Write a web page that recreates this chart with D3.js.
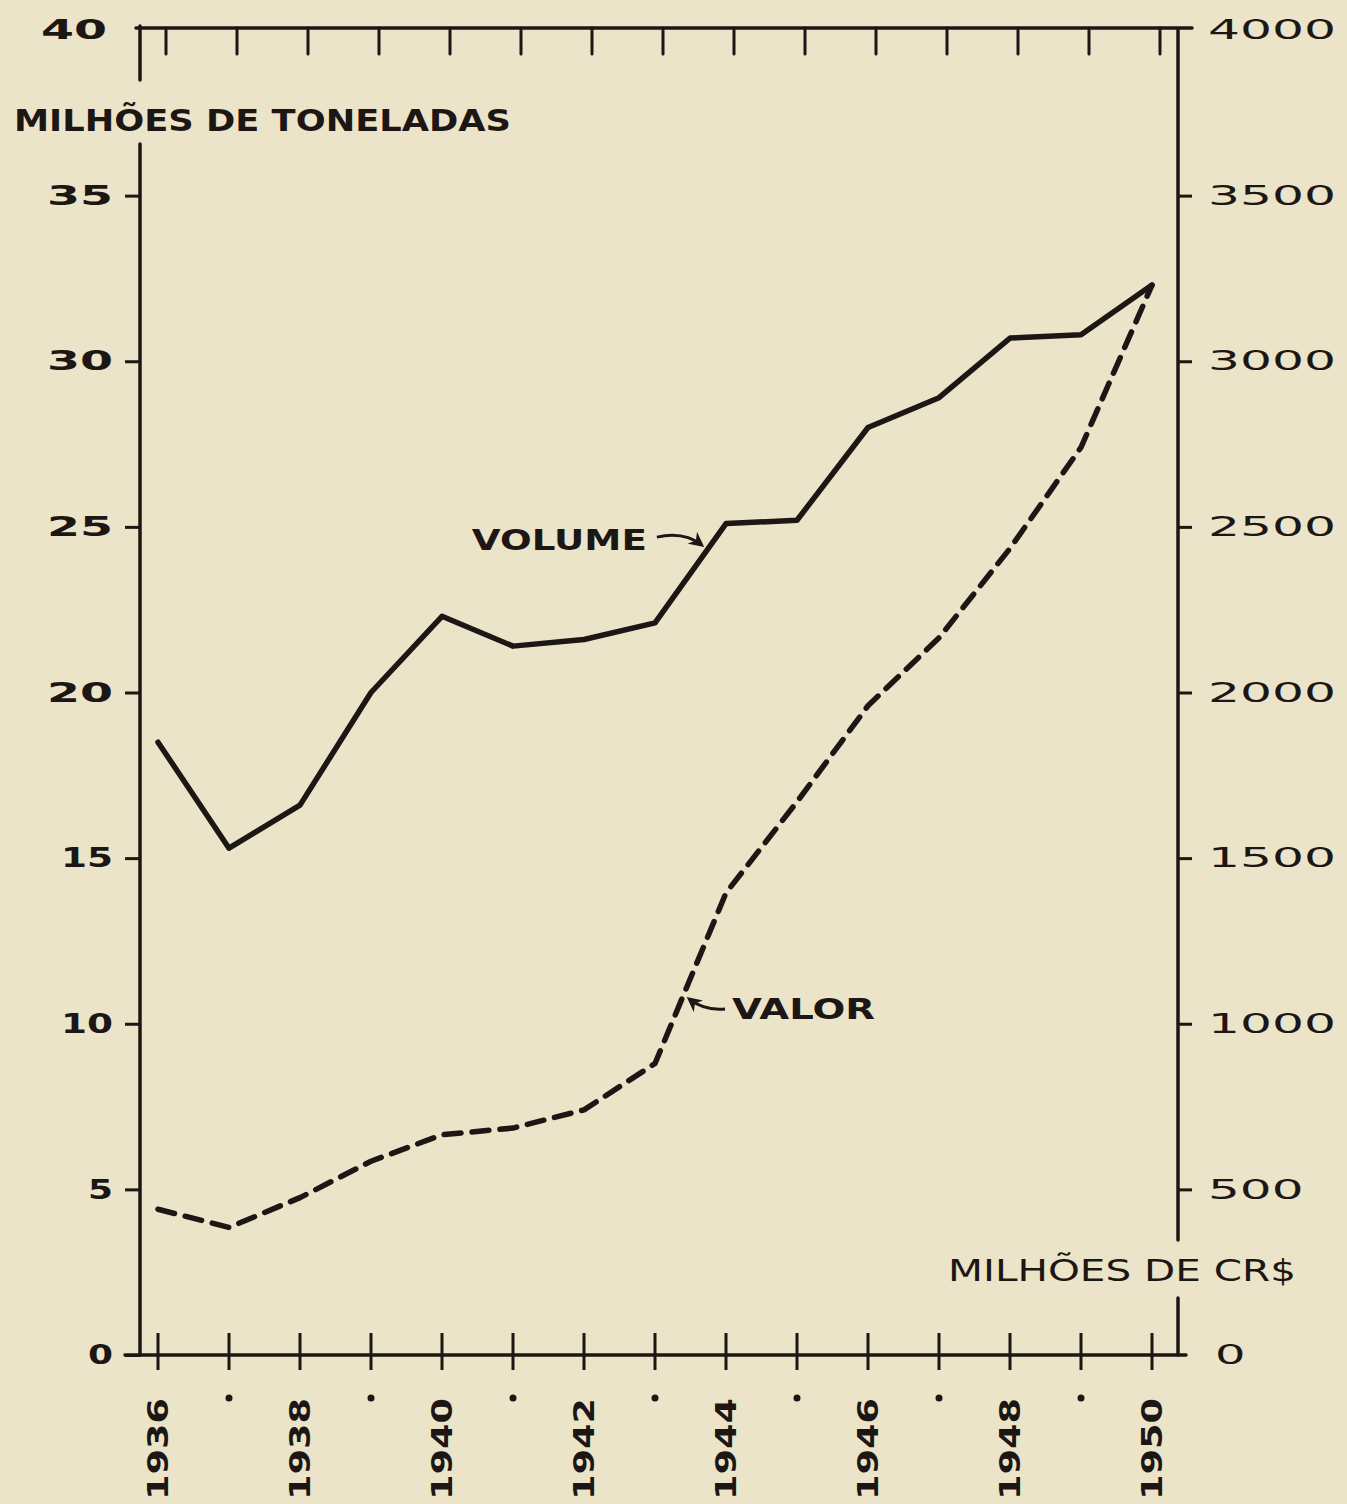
<!DOCTYPE html>
<html>
<head>
<meta charset="utf-8">
<script src="https://cdn.jsdelivr.net/npm/d3@7"></script>
<style>
  html, body { margin: 0; padding: 0; background: #ece4c8; }
  svg { display: block; }
  text { fill: #1c1714; font-family: 'DejaVu Sans', sans-serif; }
</style>
</head>
<body>
<svg id="chart" width="1347" height="1504"></svg>
<script>
// values
const years = [1936, 1937, 1938, 1939, 1940, 1941, 1942, 1943, 1944, 1945, 1946, 1947, 1948, 1949, 1950];
const volume = [18.5, 15.3, 16.6, 20.0, 22.3, 21.4, 21.6, 22.1, 25.1, 25.2, 28.0, 28.9, 30.7, 30.8, 32.3]; // milhoes de toneladas
const valor = [440, 385, 475, 585, 665, 685, 740, 880, 1395, 1670, 1960, 2165, 2435, 2740, 3230]; // milhoes de cr$
const leftTicks = [0, 5, 10, 15, 20, 25, 30, 35, 40];
const rightTicks = [0, 500, 1000, 1500, 2000, 2500, 3000, 3500, 4000];

const ink = '#1c1714';
const axisX0 = 140;
const axisX1 = 1178;
const baseY = 1355;
const topY = 30;

const svg = d3.select('#chart');
svg.append('rect').attr('width', 1347).attr('height', 1504).attr('fill', '#ece4c8');

const x = d3.scaleLinear().domain([1936, 1950]).range([158, 1152]);
const yLeft = d3.scaleLinear().domain([0, 40]).range([baseY, topY]);
const yRight = d3.scaleLinear().domain([0, 4000]).range([baseY, topY]);

// frame lines (hand drawn look: gaps where the unit titles sit)
const frame = svg.append('g').attr('stroke', ink).attr('stroke-width', 3.5).attr('stroke-linecap', 'round');
frame.append('line').attr('x1', axisX0).attr('x2', axisX0).attr('y1', topY - 4).attr('y2', 80);
frame.append('line').attr('x1', axisX0).attr('x2', axisX0).attr('y1', 144).attr('y2', baseY);
frame.append('line').attr('x1', axisX1).attr('x2', axisX1).attr('y1', topY).attr('y2', 1240);
frame.append('line').attr('x1', axisX1).attr('x2', axisX1).attr('y1', 1298).attr('y2', baseY);
frame.append('line').attr('x1', axisX0 - 4).attr('x2', axisX1 + 14).attr('y1', topY - 2).attr('y2', topY - 2);
frame.append('line').attr('x1', 125).attr('x2', axisX1 + 8).attr('y1', baseY).attr('y2', baseY);

// left axis
const gl = svg.append('g')
  .attr('transform', `translate(${axisX0},0)`)
  .call(d3.axisLeft(yLeft).tickValues(leftTicks).tickSize(15).tickPadding(12).tickFormat(d3.format('d')));
gl.select('.domain').remove();
gl.selectAll('.tick line').attr('stroke', ink).attr('stroke-width', 3)
  .attr('opacity', d => (d === 40 ? 0 : 1));
gl.selectAll('.tick text')
  .attr('font-size', 27)
  .attr('font-weight', 'bold')
  .attr('fill', ink)
  .attr('x', d => (d === 40 ? -33 : -27))
  .attr('textLength', d => {
    const s = String(d);
    return s.length === 1 ? 25 : (s[0] === '1' ? 52 : 66);
  })
  .attr('lengthAdjust', 'spacingAndGlyphs');

// right axis
const gr = svg.append('g')
  .attr('transform', `translate(${axisX1},0)`)
  .call(d3.axisRight(yRight).tickValues(rightTicks).tickSize(14).tickPadding(14).tickFormat(d3.format('d')));
gr.select('.domain').remove();
gr.selectAll('.tick line').attr('stroke', ink).attr('stroke-width', 3)
  .attr('opacity', d => (d === 0 || d === 4000 ? 0 : 1));
gr.selectAll('.tick text')
  .attr('font-size', 27)
  .attr('fill', ink)
  .attr('x', d => (d === 0 ? 37 : 30))
  .attr('textLength', d => String(d).length * 32.5 - 2)
  .attr('lengthAdjust', 'spacingAndGlyphs');

// year ticks, crossing the base line, and matching ticks hanging from the top line
svg.append('g').selectAll('line')
  .data(years)
  .join('line')
  .attr('x1', d => x(d)).attr('x2', d => x(d))
  .attr('y1', baseY - 22).attr('y2', baseY + 15)
  .attr('stroke', ink).attr('stroke-width', 3);

svg.append('g').selectAll('line')
  .data(years)
  .join('line')
  .attr('x1', d => x(d) + 8).attr('x2', d => x(d) + 8)
  .attr('y1', topY - 2).attr('y2', topY + 24)
  .attr('stroke', ink).attr('stroke-width', 3).attr('stroke-linecap', 'round');

// labels for even years, dots for odd years
svg.append('g').selectAll('text')
  .data(years.filter(d => d % 2 === 0))
  .join('text')
  .attr('transform', d => `translate(${x(d) + 10},1398) rotate(-90)`)
  .attr('text-anchor', 'end')
  .attr('font-size', 28)
  .attr('font-weight', 'bold')
  .attr('textLength', 102)
  .attr('lengthAdjust', 'spacingAndGlyphs')
  .text(d => d);

svg.append('g').selectAll('circle')
  .data(years.filter(d => d % 2 === 1))
  .join('circle')
  .attr('cx', d => x(d)).attr('cy', 1398).attr('r', 3.5)
  .attr('fill', ink);

// unit titles
svg.append('text')
  .attr('x', 14).attr('y', 131)
  .attr('font-size', 30).attr('font-weight', 'bold')
  .attr('textLength', 497).attr('lengthAdjust', 'spacingAndGlyphs')
  .text('MILHÕES DE TONELADAS');

svg.append('text')
  .attr('x', 948).attr('y', 1281)
  .attr('font-size', 30)
  .attr('textLength', 348).attr('lengthAdjust', 'spacingAndGlyphs')
  .text('MILHÕES DE CR$');

// series
const volumeLine = d3.line()
  .x((d, i) => x(years[i]))
  .y(d => yLeft(d));

svg.append('path')
  .datum(volume)
  .attr('d', volumeLine)
  .attr('fill', 'none')
  .attr('stroke', ink)
  .attr('stroke-width', 5.5)
  .attr('stroke-linejoin', 'round')
  .attr('stroke-linecap', 'round');

const valorLine = d3.line()
  .x((d, i) => x(years[i]))
  .y(d => yRight(d));

svg.append('path')
  .datum(valor)
  .attr('d', valorLine)
  .attr('fill', 'none')
  .attr('stroke', ink)
  .attr('stroke-width', 5.5)
  .attr('stroke-dasharray', '17 11')
  .attr('stroke-linejoin', 'round')
  .attr('stroke-linecap', 'round');

// annotations with little hand drawn arrows
const defs = svg.append('defs');
defs.append('marker')
  .attr('id', 'head')
  .attr('viewBox', '0 0 10 10')
  .attr('refX', 8).attr('refY', 5)
  .attr('markerWidth', 5).attr('markerHeight', 5)
  .attr('orient', 'auto')
  .append('path')
  .attr('d', 'M0,0 L10,5 L0,10 L3,5 Z')
  .attr('fill', ink);

const volTip = { x: x(1943.66), y: yLeft(24.45) };
svg.append('path')
  .attr('d', `M${volTip.x - 45},${volTip.y - 8} Q${volTip.x - 18},${volTip.y - 14} ${volTip.x},${volTip.y}`)
  .attr('fill', 'none').attr('stroke', ink).attr('stroke-width', 3)
  .attr('marker-end', 'url(#head)');
svg.append('text')
  .attr('x', volTip.x - 230).attr('y', volTip.y + 5)
  .attr('font-size', 29).attr('font-weight', 'bold')
  .attr('textLength', 175).attr('lengthAdjust', 'spacingAndGlyphs')
  .text('VOLUME');

const valTip = { x: x(1943.48), y: yRight(1075) };
svg.append('path')
  .attr('d', `M${valTip.x + 36},${valTip.y + 10} Q${valTip.x + 15},${valTip.y + 12} ${valTip.x},${valTip.y}`)
  .attr('fill', 'none').attr('stroke', ink).attr('stroke-width', 3)
  .attr('marker-end', 'url(#head)');
svg.append('text')
  .attr('x', valTip.x + 43).attr('y', valTip.y + 20)
  .attr('font-size', 28).attr('font-weight', 'bold')
  .attr('textLength', 143).attr('lengthAdjust', 'spacingAndGlyphs')
  .text('VALOR');
</script>
</body>
</html>
